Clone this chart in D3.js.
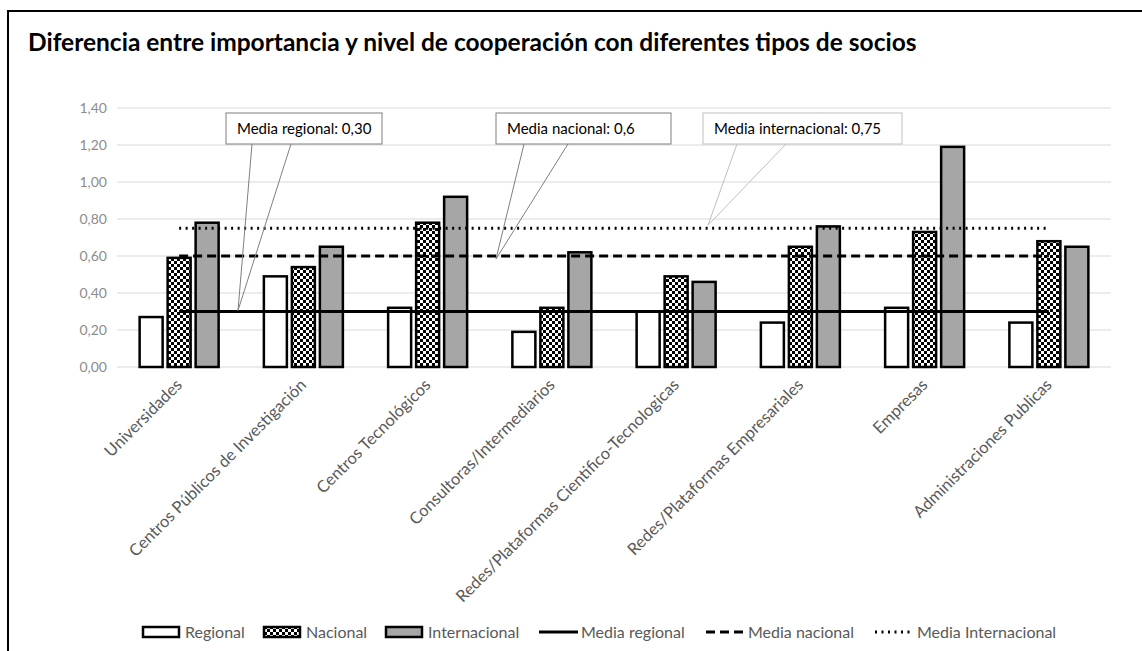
<!DOCTYPE html>
<html>
<head>
<meta charset="utf-8">
<script src="https://cdn.jsdelivr.net/npm/d3@7"></script>
<style>
  body { margin: 0; background: #fff; }
  text { font-family: Lato, "Open Sans", sans-serif; }
</style>
</head>
<body>
<div id="chart"></div>
<script>
// Chart data
const categories = [
    "Universidades",
    "Centros Públicos de Investigación",
    "Centros Tecnológicos",
    "Consultoras/Intermediarios",
    "Redes/Plataformas Cientifico-Tecnologicas",
    "Redes/Plataformas Empresariales",
    "Empresas",
    "Administraciones Publicas"
];
const regional      = [0.27, 0.49, 0.32, 0.19, 0.30, 0.24, 0.32, 0.24];
const nacional      = [0.59, 0.54, 0.78, 0.32, 0.49, 0.65, 0.73, 0.68];
const internacional = [0.78, 0.65, 0.92, 0.62, 0.46, 0.76, 1.19, 0.65];
const mediaRegional = 0.30;
const mediaNacional = 0.60;
const mediaInternacional = 0.75;
const yTicks = [0, 0.2, 0.4, 0.6, 0.8, 1.0, 1.2, 1.4];
const seriesNames = ["Regional", "Nacional", "Internacional"];

const W = 1142, H = 651;
const margin = { top: 108, right: 31, bottom: 284, left: 117 };
const width = W - margin.left - margin.right;
const height = H - margin.top - margin.bottom;

const svg = d3.select("#chart").append("svg")
    .attr("width", W)
    .attr("height", H);

// checkerboard pattern for "Nacional"
const defs = svg.append("defs");
const pat = defs.append("pattern")
    .attr("id", "checker")
    .attr("width", 6).attr("height", 6)
    .attr("patternUnits", "userSpaceOnUse");
pat.append("rect").attr("width", 6).attr("height", 6).attr("fill", "#fff");
pat.append("rect").attr("width", 3).attr("height", 3).attr("fill", "#000");
pat.append("rect").attr("x", 3).attr("y", 3).attr("width", 3).attr("height", 3).attr("fill", "#000");

const fills = ["#fff", "url(#checker)", "#a6a6a6"];

// outer frame
svg.append("rect")
    .attr("x", 8).attr("y", 11)
    .attr("width", 1200).attr("height", 700)
    .attr("fill", "none")
    .attr("stroke", "#000")
    .attr("stroke-width", 2);

// Title
svg.append("text")
    .attr("x", 28).attr("y", 51)
    .style("font-size", "24.5px")
    .style("font-weight", "bold")
    .attr("fill", "#000")
    .text("Diferencia entre importancia y nivel de cooperación con diferentes tipos de socios");

const g = svg.append("g")
    .attr("transform", `translate(${margin.left},${margin.top})`);

// Scales
const x0 = d3.scaleBand().domain(categories).range([0, width]).paddingInner(0).paddingOuter(0);
const yScale = d3.scaleLinear().domain([0, 1.4]).range([height, 0]);

// gridlines
g.append("g")
    .selectAll("line")
    .data(yTicks)
    .enter().append("line")
    .attr("x1", 0).attr("x2", width)
    .attr("y1", d => yScale(d)).attr("y2", d => yScale(d))
    .attr("stroke", "#d9d9d9")
    .attr("stroke-width", 1);

// Y-axis labels
const yAxis = g.append("g")
    .call(d3.axisLeft(yScale).tickValues(yTicks).tickSize(0).tickPadding(10)
        .tickFormat(d => d3.format(".2f")(d).replace(".", ",")));
yAxis.select(".domain").remove();
yAxis.selectAll("text")
    .attr("fill", "#8c8c8c")
    .style("font-size", "14px")
    .style("font-family", "Lato, sans-serif");

// Bars
const barW = 23, gap = 5;
const x1 = d3.scaleBand().domain(seriesNames).range([0, barW * 3 + gap * 2]).paddingInner(gap / (barW + gap));
const groupW = barW * 3 + gap * 2;
const series = [regional, nacional, internacional];

seriesNames.forEach(function(name, si) {
    g.append("g")
        .selectAll("rect")
        .data(series[si])
        .enter().append("rect")
        .attr("x", (d, i) => x0(categories[i]) + x0.bandwidth() / 2 - groupW / 2 + x1(name))
        .attr("y", d => yScale(d))
        .attr("width", x1.bandwidth())
        .attr("height", d => yScale(0) - yScale(d))
        .attr("fill", fills[si])
        .attr("stroke", "#000")
        .attr("stroke-width", 2.5);
});

// Mean lines
const lineX1 = x0(categories[0]) + x0.bandwidth() / 2;
const lineX2 = x0(categories[categories.length - 1]) + x0.bandwidth() / 2;
const means = [
    { v: mediaRegional, dash: null },
    { v: mediaNacional, dash: "9,5" },
    { v: mediaInternacional, dash: "2,4.5" }
];
g.selectAll(".mean")
    .data(means)
    .enter().append("line")
    .attr("class", "mean")
    .attr("x1", lineX1).attr("x2", lineX2)
    .attr("y1", d => yScale(d.v)).attr("y2", d => yScale(d.v))
    .attr("stroke", "#000")
    .attr("stroke-width", 2.8)
    .attr("stroke-dasharray", d => d.dash);

// X-axis labels
g.append("g")
    .selectAll("text")
    .data(categories)
    .enter().append("text")
    .attr("transform", d => `translate(${x0(d) + x0.bandwidth() / 2 + 4},${height + 19}) rotate(-45)`)
    .attr("text-anchor", "end")
    .attr("fill", "#595959")
    .style("font-size", "16.5px")
    .text(d => d);

// Callouts
const callouts = [
    { text: "Media regional: 0,30", bx: 226, bw: 156, p1: 252, p2: 291, tx: 238, ty: yScale(mediaRegional) + margin.top - 1, color: "#7f7f7f" },
    { text: "Media nacional: 0,6", bx: 496, bw: 175, p1: 524, p2: 568, tx: 496, ty: yScale(mediaNacional) + margin.top + 3, color: "#7f7f7f" },
    { text: "Media internacional: 0,75", bx: 703, bw: 199, p1: 737, p2: 786, tx: 708, ty: yScale(mediaInternacional) + margin.top - 3, color: "#bfbfbf" }
];
const boxTop = 113, boxH = 31;
callouts.forEach(function(c) {
    svg.append("polyline")
        .attr("points", `${c.p1},${boxTop + boxH} ${c.tx},${c.ty} ${c.p2},${boxTop + boxH}`)
        .attr("fill", "none")
        .attr("stroke", c.color)
        .attr("stroke-width", 1);
    svg.append("rect")
        .attr("x", c.bx).attr("y", boxTop)
        .attr("width", c.bw).attr("height", boxH)
        .attr("fill", "#fff")
        .attr("stroke", c.color)
        .attr("stroke-width", 1);
    svg.append("text")
        .attr("x", c.bx + 11).attr("y", boxTop + 21)
        .attr("fill", "#000")
        .style("font-size", "15px")
        .text(c.text);
});

// Legend
const legend = svg.append("g").attr("transform", "translate(0,632)");
const legendItems = [
    { label: "Regional", type: "rect", fill: fills[0], x: 143 },
    { label: "Nacional", type: "rect", fill: fills[1], x: 264 },
    { label: "Internacional", type: "rect", fill: fills[2], x: 386 },
    { label: "Media regional", type: "line", dash: null, x: 539 },
    { label: "Media nacional", type: "line", dash: "9,5", x: 706 },
    { label: "Media Internacional", type: "line", dash: "2,4.5", x: 875 }
];
legendItems.forEach(function(it) {
    if (it.type === "rect") {
        legend.append("rect")
            .attr("x", it.x).attr("y", -5)
            .attr("width", 36).attr("height", 10)
            .attr("fill", it.fill)
            .attr("stroke", "#000")
            .attr("stroke-width", 2.5);
    } else {
        legend.append("line")
            .attr("x1", it.x).attr("x2", it.x + 39)
            .attr("y1", 0).attr("y2", 0)
            .attr("stroke", "#000")
            .attr("stroke-width", 2.8)
            .attr("stroke-dasharray", it.dash);
    }
    legend.append("text")
        .attr("x", it.x + 42)
        .attr("y", 6)
        .attr("fill", "#595959")
        .style("font-size", "16px")
        .text(it.label);
});
</script>
</body>
</html>
